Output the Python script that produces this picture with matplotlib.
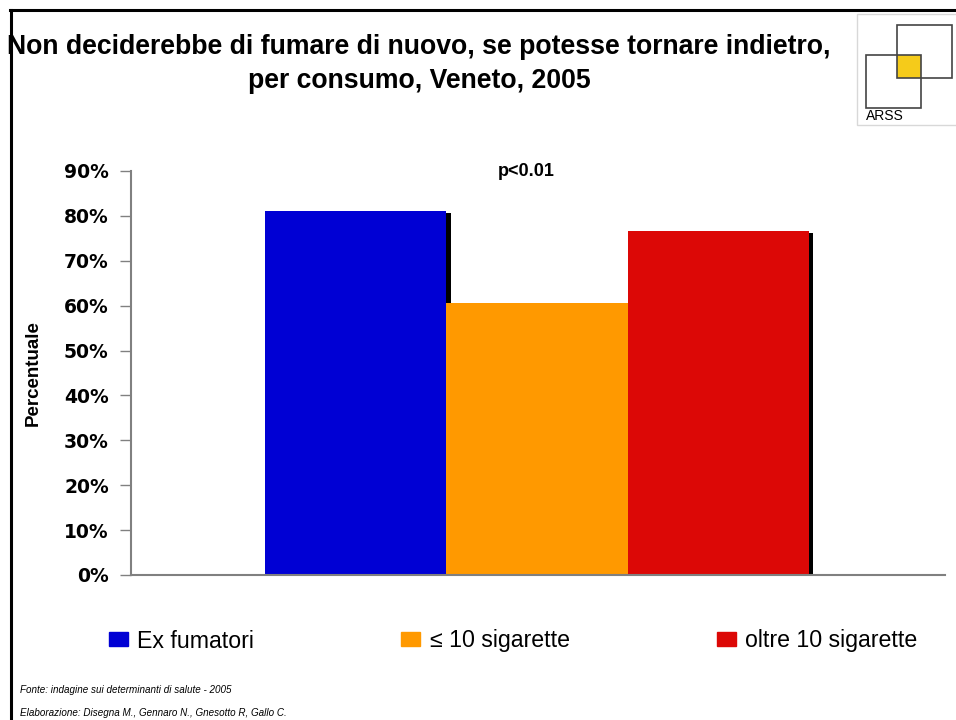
"""Bar chart: would not start smoking again, by consumption, Veneto 2005."""
import matplotlib.pyplot as plt
import matplotlib.patheffects as pe
from matplotlib.lines import Line2D
from matplotlib.patches import Rectangle
from matplotlib.ticker import FuncFormatter

CATEGORIES = ["Ex fumatori", "\u2264 10 sigarette", "oltre 10 sigarette"]
VALUES = [0.811, 0.607, 0.766]
COLORS = ["#0000D4", "#FF9900", "#DC0806"]
YTICKS = [0, 0.1, 0.2, 0.3, 0.4, 0.5, 0.6, 0.7, 0.8, 0.9]

TITLE = "Non deciderebbe di fumare di nuovo, se potesse tornare indietro,\nper consumo, Veneto, 2005"
NOTE = "p<0.01"
SOURCE = "Fonte: indagine sui determinanti di salute - 2005"
CREDITS = "Elaborazione: Disegna M., Gennaro N., Gnesotto R, Gallo C."

plt.rcParams["font.family"] = ["Liberation Sans", "DejaVu Sans"]
AXIS = "#808080"

W, H = 956, 720
fig = plt.figure(figsize=(W / 100, H / 100), dpi=100)
ax = fig.add_axes([131 / W, 1 - 575 / H, (945 - 131) / W, (575 - 171) / H])

x = list(range(len(CATEGORIES)))
shadow = [pe.SimplePatchShadow(offset=(3, -1.5), shadow_rgbFace="black", alpha=1.0),
          pe.Normal()]
bars = ax.bar(x, VALUES, width=1.0, color=COLORS, linewidth=0)
for b in bars:
    b.set_path_effects(shadow)

ax.set_xlim(-1.24, 3.25)
ax.set_ylim(0, 0.9)
ax.set_yticks(YTICKS)
ax.yaxis.set_major_formatter(FuncFormatter(lambda v, _: f"{v*100:.0f}%"))
ax.tick_params(axis="y", length=8, width=1, color=AXIS, pad=8)
for lab in ax.get_yticklabels():
    lab.set_fontfamily("DejaVu Sans")
    lab.set_fontweight("bold")
    lab.set_fontsize(13.5)
ax.set_xticks([])
for s in ["top", "right"]:
    ax.spines[s].set_visible(False)
for s in ["left", "bottom"]:
    ax.spines[s].set_color(AXIS)
    ax.spines[s].set_linewidth(1.5)
ax.set_ylabel("Percentuale", fontsize=13.5, fontweight="bold")
ax.yaxis.set_label_coords((42 - 131) / (945 - 131), 0.5)

ax.text(0.486, 1.0, NOTE, transform=ax.transAxes, ha="center", va="center",
        fontsize=13, fontweight="bold")

fig.text(419 / W, 1 - 64 / H, TITLE, ha="center", va="center", fontsize=19.2,
         fontweight="bold", linespacing=1.45)

handles = [Rectangle((0, 0), 1, 1, color=c) for c in COLORS]
fig.legend(handles, CATEGORIES, loc="center left", bbox_to_anchor=(109 / W, 1 - 641 / H),
           ncol=3, frameon=False, fontsize=16.7, handlelength=0.82, handleheight=0.55,
           handletextpad=0.4, columnspacing=6.35, borderpad=0, borderaxespad=0)

fig.text(20 / W, 1 - 690 / H, SOURCE, fontsize=7.1, style="italic", va="center")
fig.text(20 / W, 1 - 713 / H, CREDITS, fontsize=7.1, style="italic", va="center")

# page frame
fig.add_artist(Line2D([10 / W, 1], [1 - 10 / H, 1 - 10 / H], color="black", lw=2.2,
                      transform=fig.transFigure))
fig.add_artist(Line2D([11 / W, 11 / W], [1 - 10 / H, 0], color="black", lw=2.2,
                      transform=fig.transFigure))

# ARSS logo
def fbox(x0, y0, x1, y1, **kw):
    fig.add_artist(Rectangle((x0 / W, 1 - y1 / H), (x1 - x0) / W, (y1 - y0) / H,
                             transform=fig.transFigure, **kw))

fbox(857, 14, 960, 125, facecolor="white", edgecolor="#D8D8D8", lw=1)
fbox(897, 55, 921, 78, facecolor="#F5CB1A", edgecolor="none")
fbox(897, 25, 952, 78, facecolor="none", edgecolor="#444444", lw=1.2)
fbox(866, 55, 921, 108, facecolor="none", edgecolor="#444444", lw=1.2)
fig.text(866 / W, 1 - 116 / H, "ARSS", fontsize=10, va="center", ha="left")

fig.savefig("out.png", dpi=100)
